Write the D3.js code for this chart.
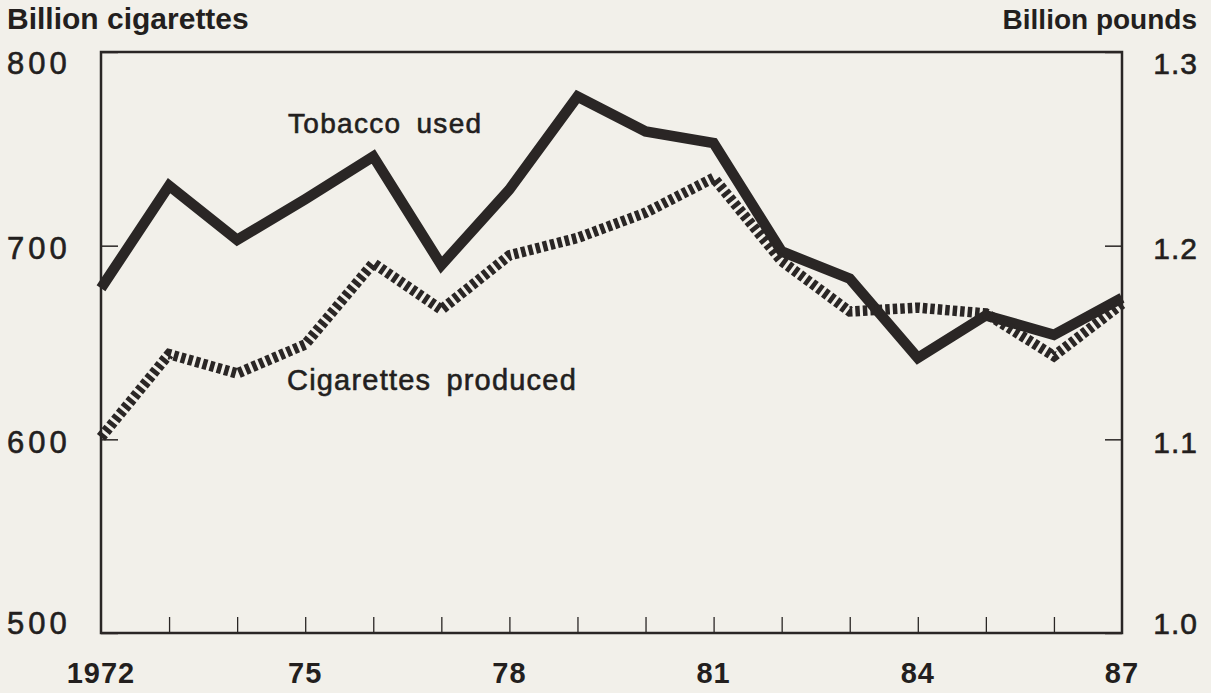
<!DOCTYPE html>
<html>
<head>
<meta charset="utf-8">
<script src="https://cdn.jsdelivr.net/npm/d3@7"></script>
<style>
  html, body { margin: 0; padding: 0; background: #f2f0ea; }
  svg { display: block; }
  text { font-family: "Liberation Sans", Arial, Helvetica, sans-serif; fill: #231f1e; }
  .med { stroke: #231f1e; stroke-width: 0.6px; }
</style>
</head>
<body>
<svg id="chart" width="1211" height="693"></svg>
<script>
// ---- Data ----
const years = [1972,1973,1974,1975,1976,1977,1978,1979,1980,1981,1982,1983,1984,1985,1986,1987];
// Tobacco used, billion pounds (right axis)
const tobaccoUsed = [1.178,1.231,1.203,1.224,1.246,1.190,1.229,1.277,1.259,1.253,1.197,1.183,1.142,1.164,1.154,1.173];
// Cigarettes produced, billion cigarettes (left axis)
const cigarettesProduced = [601,644,634,649,691,667,695,704,717,735,692,666,668,665,643,670];
const leftTicks = [500,600,700,800];
const rightTicks = [1.0,1.1,1.2,1.3];
const xLabelYears = [1972,1975,1978,1981,1984,1987];
const xLabelText = ["1972","75","78","81","84","87"];
const leftTitle = "Billion cigarettes";
const rightTitle = "Billion pounds";
const seriesLabels = ["Tobacco used","Cigarettes produced"];

// ---- Layout ----
const svg = d3.select("#chart");
const L = 101, R = 1122, T = 52, B = 633;
const ink = "#2a2625";

const x = d3.scaleLinear().domain([1972,1987]).range([L,R]);
const yL = d3.scaleLinear().domain([500,800]).range([B,T]);
const yR = d3.scaleLinear().domain([1.0,1.3]).range([B,T]);

// Titles
svg.append("text").attr("x",7).attr("y",29)
  .attr("font-size",30).attr("font-weight","bold").text(leftTitle);
svg.append("text").attr("x",1197).attr("y",29).attr("text-anchor","end")
  .attr("font-size",28).attr("font-weight","bold").text(rightTitle);

// Left axis
const gL = svg.append("g").attr("transform",`translate(${L},0)`)
  .call(d3.axisLeft(yL).tickValues(leftTicks).tickSizeInner(-17).tickSizeOuter(0).tickFormat(d3.format("d")));
gL.select(".domain").remove();
gL.selectAll(".tick line").attr("stroke",ink).attr("stroke-width",1.5);
gL.selectAll(".tick text")
  .attr("class","med")
  .attr("font-size",31).attr("letter-spacing","4px")
  .attr("text-anchor","start").attr("fill",ink)
  .attr("x", 7 - L)
  .attr("dy", null)
  .attr("y", d => Math.max(T + 10, Math.min(B - 11, yL(d) + 2)) - yL(d) + 11);

// Right axis
const gR = svg.append("g").attr("transform",`translate(${R},0)`)
  .call(d3.axisRight(yR).tickValues(rightTicks).tickSizeInner(-17).tickSizeOuter(0).tickFormat(d3.format(".1f")));
gR.select(".domain").remove();
gR.selectAll(".tick line").attr("stroke",ink).attr("stroke-width",1.5);
gR.selectAll(".tick text")
  .attr("class","med")
  .attr("font-size",30).attr("letter-spacing","1px")
  .attr("text-anchor","end").attr("fill",ink)
  .attr("x", 1198 - R)
  .attr("dy", null)
  .attr("y", d => Math.max(T + 10, Math.min(B - 11, yR(d) + 2)) - yR(d) + 11);

// Bottom axis ticks (inward)
const gB = svg.append("g").attr("transform",`translate(0,${B})`)
  .call(d3.axisBottom(x).tickValues(years.slice(1,-1)).tickSizeInner(-16).tickSizeOuter(0).tickFormat(""));
gB.select(".domain").remove();
gB.selectAll(".tick line").attr("stroke",ink).attr("stroke-width",1.3);

// Bottom labels
svg.append("g").selectAll("text").data(xLabelYears).join("text")
  .attr("x", d => x(d)).attr("y", 683)
  .attr("text-anchor","middle").attr("font-size",29).attr("font-weight","bold")
  .attr("letter-spacing","1px")
  .text((d,i) => xLabelText[i]);

// Frame
svg.append("rect").attr("x",L).attr("y",T).attr("width",R-L).attr("height",B-T)
  .attr("fill","none").attr("stroke",ink).attr("stroke-width",2.5);

// Lines
const lineTob = d3.line().x((d,i) => x(years[i])).y(d => yR(d)).curve(d3.curveLinear);
const lineCig = d3.line().x((d,i) => x(years[i])).y(d => yL(d)).curve(d3.curveLinear);

svg.append("path").datum(tobaccoUsed).attr("d", lineTob)
  .attr("fill","none").attr("stroke",ink).attr("stroke-width",10.5)
  .attr("stroke-linejoin","miter").attr("stroke-miterlimit",4);

svg.append("path").datum(cigarettesProduced).attr("d", lineCig)
  .attr("fill","none").attr("stroke",ink).attr("stroke-width",10.5)
  .attr("stroke-dasharray","4.5,3").attr("stroke-linejoin","miter");

// Series labels
svg.append("text").attr("class","med").attr("x",288).attr("y",133)
  .attr("font-size",28).attr("letter-spacing","1.3px").attr("word-spacing","6px")
  .text(seriesLabels[0]);
svg.append("text").attr("class","med").attr("x",287).attr("y",390)
  .attr("font-size",29).attr("letter-spacing","1.2px").attr("word-spacing","6px")
  .text(seriesLabels[1]);
</script>
</body>
</html>
